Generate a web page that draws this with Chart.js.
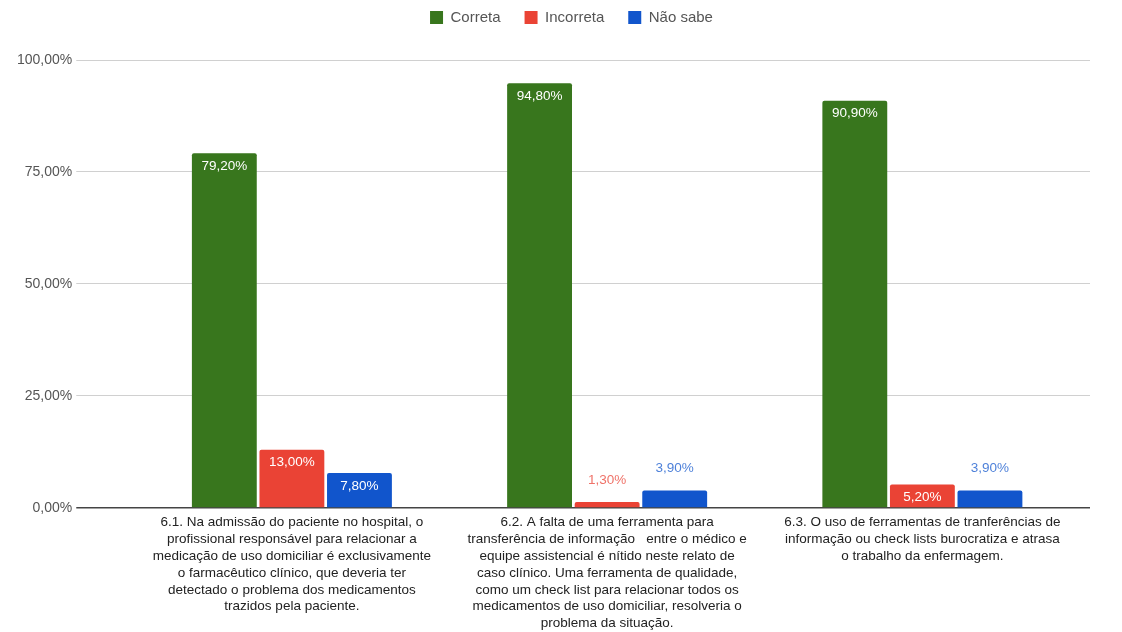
<!DOCTYPE html>
<html>
<head>
<meta charset="utf-8">
<script src="https://cdn.jsdelivr.net/npm/chart.js@4"></script>
<style>
  body { margin: 0; background: #fff; }
</style>
</head>
<body>
<canvas id="barChart" width="1122" height="632"></canvas>
<script>
// categorias (perguntas)
var categorias = [
  ['6.1. Na admissão do paciente no hospital, o', 'profissional responsável para relacionar a', 'medicação de uso domiciliar é exclusivamente', 'o farmacêutico clínico, que deveria ter', 'detectado o problema dos medicamentos', 'trazidos pela paciente.'],
  ['6.2. A falta de uma ferramenta para', 'transferência de informação   entre o médico e', 'equipe assistencial é nítido neste relato de', 'caso clínico. Uma ferramenta de qualidade,', 'como um check list para relacionar todos os', 'medicamentos de uso domiciliar, resolveria o', 'problema da situação.'],
  ['6.3. O uso de ferramentas de tranferências de', 'informação ou check lists burocratiza e atrasa', 'o trabalho da enfermagem.']
];
var series = ['Correta', 'Incorreta', 'Não sabe'];
var correta = [79.2, 94.8, 90.9];
var incorreta = [13.0, 1.3, 5.2];
var naoSabe = [7.8, 3.9, 3.9];
var yTicks = [0, 25, 50, 75, 100];

var cores = ['#38761d', '#ea4335', '#1155cc'];
var fonte = '"Liberation Sans", Arial, sans-serif';

function fmt(v) {
  return v.toFixed(2).replace('.', ',') + '%';
}

// rotulos de valor nas barras
var rotulos = {
  id: 'rotulos',
  afterDatasetsDraw: function (chart) {
    var ctx = chart.ctx;
    ctx.save();
    ctx.font = '13.5px ' + fonte;
    ctx.textAlign = 'center';
    ctx.textBaseline = 'middle';
    chart.data.datasets.forEach(function (ds, i) {
      var meta = chart.getDatasetMeta(i);
      meta.data.forEach(function (bar, j) {
        var v = ds.data[j];
        var h = bar.base - bar.y;
        if (h > 20) {
          ctx.fillStyle = '#ffffff';
          ctx.fillText(fmt(v), bar.x, bar.y + 13);
        } else {
          ctx.fillStyle = ds.backgroundColor;
          ctx.globalAlpha = 0.75;
          ctx.fillText(fmt(v), bar.x, bar.y - 22);
          ctx.globalAlpha = 1;
        }
      });
    });
    ctx.restore();
  }
};

// linhas de grade passam um pouco da area do grafico a direita
var gradeDireita = {
  id: 'gradeDireita',
  beforeDatasetsDraw: function (chart) {
    var ctx = chart.ctx;
    var y = chart.scales.y;
    var area = chart.chartArea;
    ctx.save();
    yTicks.forEach(function (v) {
      var w = v === 0 ? 1.5 : 1;
      var py = Math.round(y.getPixelForValue(v) - w / 2) + w / 2;
      ctx.strokeStyle = v === 0 ? '#444' : '#d0d0d0';
      ctx.lineWidth = w;
      ctx.beginPath();
      ctx.moveTo(area.right, py);
      ctx.lineTo(area.right + 10, py);
      ctx.stroke();
    });
    ctx.restore();
  }
};

// mais espaco abaixo da legenda, e legenda um pouco para a direita
var espacoLegenda = {
  id: 'espacoLegenda',
  beforeInit: function (chart) {
    var fitOrig = chart.legend.fit;
    chart.legend.fit = function () {
      fitOrig.bind(chart.legend)();
      this.height += 25;
    };
  },
  afterLayout: function (chart) {
    chart.legend.left += 25;
    chart.legend.right += 25;
  }
};

var data = {
  labels: categorias,
  datasets: [
    { label: series[0], data: correta, backgroundColor: cores[0] },
    { label: series[1], data: incorreta, backgroundColor: cores[1] },
    { label: series[2], data: naoSabe, backgroundColor: cores[2] }
  ]
};

var options = {
  responsive: false,
  animation: false,
  layout: { padding: { left: 13, right: 42, top: -14, bottom: -6 } },
  datasets: {
    bar: { categoryPercentage: 0.643, barPercentage: 0.96, borderRadius: 2 }
  },
  plugins: {
    legend: {
      position: 'top',
      labels: {
        boxWidth: 13,
        boxHeight: 13,
        padding: 24,
        color: '#555',
        font: { size: 15, family: fonte }
      }
    },
    tooltip: { enabled: false }
  },
  scales: {
    x: {
      grid: { display: false, drawTicks: false },
      border: { display: false },
      ticks: {
        maxRotation: 0,
        autoSkip: false,
        padding: 6,
        color: '#222',
        font: { size: 13.5, family: fonte, lineHeight: 1.25 }
      }
    },
    y: {
      min: 0,
      max: 100,
      afterBuildTicks: function (axis) {
        axis.ticks = yTicks.map(function (v) { return { value: v }; });
      },
      border: { display: false },
      grid: {
        tickLength: 58,
        color: function (c) { return c.tick && c.tick.value === 0 ? '#444' : '#d0d0d0'; },
        lineWidth: function (c) { return c.tick && c.tick.value === 0 ? 1.5 : 1; }
      },
      ticks: {
        padding: 4,
        color: '#555',
        font: { size: 14, family: fonte },
        callback: function (v) { return fmt(v); }
      }
    }
  }
};

var ctx = document.getElementById('barChart').getContext('2d');
var barChart = new Chart(ctx, {
  type: 'bar',
  data: data,
  options: options,
  plugins: [rotulos, gradeDireita, espacoLegenda]
});
</script>
</body>
</html>
